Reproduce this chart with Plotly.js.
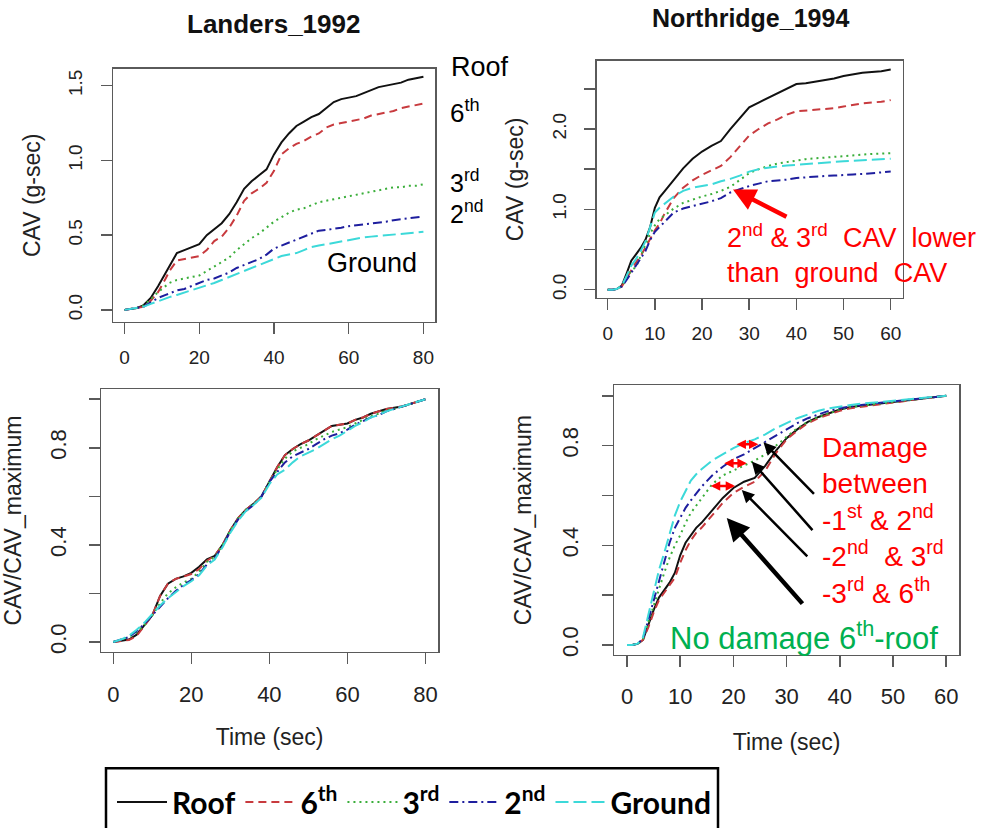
<!DOCTYPE html>
<html><head><meta charset="utf-8">
<script src="https://cdn.plot.ly/plotly-3.0.1.min.js"></script>
<style>html,body{margin:0;padding:0;background:#fff}#chart{width:984px;height:828px}</style>
</head><body><div id="chart"></div>
<script>
// ---------- data ----------
const seriesNames = ['Roof', '6<sup>th</sup>', '3<sup>rd</sup>', '2<sup>nd</sup>', 'Ground'];

// Landers_1992 : CAV (g-sec)
const landersTime = [0,3,5,7,9,11,12,14,16,18,20,22,24,26,28,30,32,34,36,38,40,42,44,46,48,50,52,54,56,58,60,62,64,66,68,70,72,74,76,78,80];
const landersRoof   = [0,0.01,0.03,0.08,0.16,0.25,0.30,0.38,0.40,0.42,0.44,0.50,0.54,0.58,0.64,0.72,0.81,0.86,0.90,0.94,1.04,1.12,1.18,1.23,1.26,1.29,1.31,1.35,1.39,1.41,1.42,1.43,1.45,1.47,1.49,1.50,1.51,1.52,1.54,1.55,1.56];
const landers6th    = [0,0.01,0.02,0.06,0.12,0.21,0.26,0.33,0.34,0.35,0.36,0.40,0.46,0.49,0.55,0.63,0.73,0.78,0.81,0.85,0.93,1.04,1.08,1.11,1.13,1.16,1.18,1.22,1.24,1.25,1.26,1.27,1.28,1.30,1.31,1.32,1.33,1.35,1.36,1.37,1.38];
const landers3rd    = [0,0.01,0.03,0.07,0.12,0.16,0.18,0.20,0.21,0.22,0.23,0.26,0.29,0.32,0.35,0.40,0.44,0.48,0.51,0.55,0.59,0.62,0.65,0.67,0.68,0.70,0.72,0.73,0.74,0.75,0.76,0.77,0.78,0.79,0.80,0.81,0.82,0.82,0.83,0.83,0.84];
const landers2nd    = [0,0.01,0.02,0.05,0.08,0.10,0.11,0.13,0.14,0.16,0.18,0.20,0.21,0.23,0.25,0.28,0.30,0.32,0.34,0.37,0.41,0.43,0.45,0.47,0.49,0.51,0.53,0.535,0.54,0.55,0.56,0.565,0.57,0.58,0.585,0.59,0.60,0.605,0.61,0.62,0.625];
const landersGround = [0,0.01,0.02,0.04,0.06,0.08,0.085,0.10,0.115,0.13,0.145,0.16,0.18,0.20,0.22,0.24,0.26,0.28,0.30,0.32,0.34,0.36,0.37,0.38,0.40,0.42,0.43,0.44,0.45,0.46,0.47,0.48,0.485,0.49,0.495,0.50,0.505,0.51,0.515,0.52,0.522];

// Northridge_1994 : CAV (g-sec)
const northTime = [0,1,2,3,4,5,6,7,8,9,10,11,12,14,16,18,20,22,24,26,28,30,32,34,36,38,40,42,44,46,48,50,52,54,56,58,60];
const northRoof   = [0,0,0.01,0.05,0.20,0.36,0.44,0.52,0.62,0.78,1.02,1.15,1.22,1.37,1.51,1.63,1.72,1.79,1.85,2.00,2.14,2.27,2.33,2.39,2.44,2.50,2.56,2.57,2.59,2.61,2.63,2.66,2.68,2.70,2.71,2.72,2.74];
const north6th    = [0,0,0.01,0.04,0.14,0.25,0.34,0.42,0.52,0.63,0.74,0.82,0.94,1.14,1.27,1.36,1.43,1.49,1.54,1.65,1.79,1.92,2.00,2.07,2.12,2.18,2.22,2.23,2.24,2.25,2.26,2.28,2.30,2.32,2.33,2.34,2.36];
const north3rd    = [0,0,0.01,0.04,0.14,0.24,0.28,0.42,0.55,0.70,0.80,0.88,0.92,1.01,1.08,1.12,1.16,1.19,1.23,1.28,1.37,1.45,1.50,1.54,1.57,1.59,1.61,1.625,1.635,1.645,1.655,1.665,1.675,1.68,1.69,1.695,1.70];
const north2nd    = [0,0,0.01,0.04,0.12,0.21,0.30,0.38,0.48,0.62,0.72,0.78,0.84,0.96,1.01,1.04,1.07,1.10,1.14,1.21,1.25,1.29,1.32,1.35,1.36,1.37,1.39,1.40,1.41,1.415,1.42,1.43,1.435,1.44,1.45,1.46,1.47];
const northGround = [0,0,0.01,0.05,0.17,0.30,0.38,0.48,0.60,0.78,0.96,1.02,1.07,1.16,1.23,1.27,1.29,1.31,1.35,1.38,1.42,1.47,1.50,1.52,1.535,1.545,1.555,1.565,1.575,1.585,1.595,1.60,1.605,1.61,1.62,1.625,1.63];

// Landers_1992 : CAV / CAV_maximum
const landersNormTime = [0,2,4,6,8,10,12,14,16,18,20,22,24,26,28,30,32,34,36,38,40,42,44,46,48,50,52,54,56,58,60,62,64,66,68,70,72,74,76,78,80];
const landersNormRoof   = [0,0.005,0.01,0.03,0.07,0.11,0.19,0.24,0.26,0.27,0.285,0.31,0.34,0.355,0.40,0.46,0.51,0.545,0.57,0.60,0.66,0.72,0.77,0.795,0.815,0.83,0.85,0.87,0.89,0.895,0.90,0.915,0.925,0.94,0.95,0.96,0.965,0.97,0.98,0.99,1.0];
const landersNorm6th    = [0,0.005,0.008,0.025,0.065,0.11,0.19,0.24,0.26,0.27,0.28,0.30,0.335,0.355,0.40,0.46,0.51,0.545,0.57,0.60,0.66,0.72,0.77,0.795,0.815,0.83,0.85,0.87,0.89,0.895,0.90,0.915,0.925,0.94,0.95,0.96,0.965,0.97,0.98,0.99,1.0];
const landersNorm3rd    = [0,0.01,0.02,0.04,0.07,0.11,0.16,0.20,0.225,0.245,0.26,0.29,0.33,0.35,0.40,0.46,0.51,0.545,0.57,0.60,0.66,0.71,0.755,0.785,0.80,0.815,0.835,0.85,0.865,0.875,0.885,0.90,0.915,0.93,0.94,0.955,0.96,0.97,0.98,0.99,1.0];
const landersNorm2nd    = [0,0.01,0.02,0.045,0.075,0.11,0.145,0.18,0.21,0.235,0.255,0.28,0.32,0.345,0.395,0.455,0.505,0.54,0.565,0.60,0.66,0.70,0.74,0.765,0.78,0.795,0.815,0.835,0.85,0.86,0.875,0.895,0.91,0.925,0.935,0.95,0.96,0.97,0.98,0.99,1.0];
const landersNormGround = [0,0.01,0.025,0.05,0.08,0.115,0.15,0.18,0.205,0.23,0.25,0.275,0.315,0.34,0.39,0.45,0.50,0.54,0.565,0.595,0.65,0.69,0.71,0.74,0.765,0.78,0.795,0.815,0.835,0.85,0.87,0.89,0.905,0.925,0.935,0.95,0.96,0.97,0.98,0.99,1.0];

// Northridge_1994 : CAV / CAV_maximum
const northNormTime = [0,1,2,3,4,5,6,7,8,9,10,11,12,13,14,16,18,20,22,24,26,28,30,32,34,36,38,40,42,44,46,48,50,52,54,56,58,60];
const northNormRoof   = [0,0,0.005,0.02,0.08,0.14,0.19,0.22,0.25,0.29,0.36,0.41,0.44,0.47,0.49,0.54,0.59,0.63,0.655,0.67,0.72,0.78,0.83,0.865,0.895,0.915,0.93,0.945,0.955,0.96,0.965,0.97,0.975,0.98,0.985,0.99,0.995,1.0];
const northNorm6th    = [0,0,0.005,0.02,0.07,0.13,0.18,0.21,0.24,0.27,0.33,0.38,0.42,0.45,0.47,0.52,0.57,0.61,0.635,0.655,0.70,0.77,0.825,0.86,0.89,0.91,0.925,0.94,0.95,0.955,0.96,0.965,0.972,0.978,0.985,0.99,0.995,1.0];
const northNorm3rd    = [0,0,0.005,0.02,0.09,0.16,0.23,0.29,0.35,0.40,0.44,0.49,0.53,0.56,0.59,0.645,0.68,0.70,0.72,0.74,0.765,0.80,0.835,0.87,0.895,0.915,0.93,0.945,0.955,0.96,0.965,0.97,0.975,0.98,0.985,0.99,0.995,1.0];
const northNorm2nd    = [0,0,0.005,0.025,0.10,0.18,0.26,0.34,0.41,0.47,0.51,0.55,0.58,0.61,0.635,0.68,0.715,0.745,0.765,0.79,0.815,0.84,0.865,0.89,0.91,0.925,0.94,0.95,0.958,0.963,0.968,0.973,0.978,0.983,0.987,0.991,0.995,1.0];
const northNormGround = [0,0,0.005,0.03,0.12,0.21,0.30,0.37,0.45,0.52,0.575,0.62,0.66,0.685,0.705,0.74,0.765,0.79,0.81,0.825,0.845,0.87,0.89,0.91,0.925,0.94,0.95,0.958,0.963,0.968,0.972,0.976,0.98,0.984,0.988,0.992,0.996,1.0];

// tick labels
const cavLandersTicks = [0, 0.5, 1.0, 1.5];
const cavLandersText  = ['0.0', '0.5', '1.0', '1.5'];
const cavNorthTicks = [0, 0.5, 1.0, 1.5, 2.0, 2.5];
const cavNorthText  = ['0.0', '', '1.0', '', '2.0', ''];
const normTicks = [0, 0.2, 0.4, 0.6, 0.8, 1.0];
const normText  = ['0.0', '', '0.4', '', '0.8', ''];
const time80Ticks = [0, 20, 40, 60, 80];
const time60Ticks = [0, 10, 20, 30, 40, 50, 60];

// ---------- styles ----------
const lineColors = ['#111111', '#c83a3e', '#3aae3a', '#1e1e9e', '#3cd9d9'];
const lineDashes = ['solid', '8px,5px', '2px,4px', '9px,4px,2px,4px', '13px,5px'];

const panels = [
  {xa: 'x',  ya: 'y',  t: landersTime,     ys: [landersRoof, landers6th, landers3rd, landers2nd, landersGround], legend: true},
  {xa: 'x2', ya: 'y2', t: northTime,       ys: [northRoof, north6th, north3rd, north2nd, northGround], legend: false},
  {xa: 'x3', ya: 'y3', t: landersNormTime, ys: [landersNormRoof, landersNorm6th, landersNorm3rd, landersNorm2nd, landersNormGround], legend: false},
  {xa: 'x4', ya: 'y4', t: northNormTime,   ys: [northNormRoof, northNorm6th, northNorm3rd, northNorm2nd, northNormGround], legend: false}
];

const traces = [];
panels.forEach(p => {
  p.ys.forEach((vals, i) => {
    traces.push({
      type: 'scatter', mode: 'lines', x: p.t, y: vals,
      xaxis: p.xa, yaxis: p.ya, name: seriesNames[i],
      showlegend: p.legend, hoverinfo: 'skip',
      line: {color: lineColors[i], width: 2, dash: lineDashes[i], shape: 'linear'}
    });
  });
});

const W = 984, H = 828;
const FONT = 'Liberation Sans, Arial, sans-serif';
function xd(a, b) { return [a / W, b / W]; }
function yd(top, bottom) { return [1 - bottom / H, 1 - top / H]; }

function axis(opts) {
  return Object.assign({
    showline: true, mirror: true, linecolor: '#5a5a5a', linewidth: 1.5,
    ticks: 'outside', ticklen: 11, tickwidth: 1.5, tickcolor: '#5a5a5a',
    showgrid: false, zeroline: false, tickmode: 'array', fixedrange: true
  }, opts);
}

const layout = {
  width: W, height: H,
  margin: {l: 0, r: 0, t: 0, b: 0},
  paper_bgcolor: '#ffffff', plot_bgcolor: '#ffffff',
  font: {family: FONT, color: '#111'},
  showlegend: true,
  legend: {
    orientation: 'h', x: 112 / W, y: 1 - 779 / H, xanchor: 'left', yanchor: 'top',
    font: {family: 'Lato, Open Sans, sans-serif', size: 30, color: '#000', weight: 700},
    bgcolor: 'rgba(0,0,0,0)', borderwidth: 0, itemwidth: 50
  },
  xaxis: axis({domain: xd(113, 435), range: [-3.1, 83.1], anchor: 'y', tickvals: time80Ticks, ticktext: time80Ticks.map(String),
    tickfont: {family: FONT, size: 19, color: '#222'}, ticklabelstandoff: 7}),
  yaxis: axis({domain: yd(69, 323), range: [-0.08, 1.613], anchor: 'x', tickvals: cavLandersTicks, ticktext: cavLandersText,
    tickangle: -90, tickfont: {family: FONT, size: 19, color: '#222'}, ticklabelstandoff: 11,
    title: {text: 'CAV (g-sec)', font: {family: FONT, size: 23, color: '#222'}, standoff: 18}}),
  xaxis2: axis({domain: xd(596.7, 902.7), range: [-2.33, 62.54], anchor: 'y2', tickvals: time60Ticks, ticktext: time60Ticks.map(String),
    tickfont: {family: FONT, size: 19, color: '#222'}, ticklabelstandoff: 7}),
  yaxis2: axis({domain: yd(61, 299), range: [-0.103, 2.85], anchor: 'x2', tickvals: cavNorthTicks, ticktext: cavNorthText,
    tickangle: -90, tickfont: {family: FONT, size: 19, color: '#222'}, ticklabelstandoff: 11,
    title: {text: 'CAV (g-sec)', font: {family: FONT, size: 23, color: '#222'}, standoff: 18}}),
  xaxis3: axis({domain: xd(101, 438.3), range: [-3.15, 83.3], anchor: 'y3', tickvals: time80Ticks, ticktext: time80Ticks.map(String),
    tickfont: {family: FONT, size: 22, color: '#222'}, ticklabelstandoff: 11,
    title: {text: 'Time (sec)', font: {family: FONT, size: 23, color: '#222'}, standoff: 23}}),
  yaxis3: axis({domain: yd(390.7, 654.3), range: [-0.041, 1.041], anchor: 'x3', tickvals: normTicks, ticktext: normText,
    tickangle: -90, tickfont: {family: FONT, size: 22, color: '#222'}, ticklabelstandoff: 14,
    title: {text: 'CAV/CAV_maximum', font: {family: FONT, size: 23, color: '#222'}, standoff: 22}}),
  xaxis4: axis({domain: xd(614.3, 959), range: [-2.39, 62.4], anchor: 'y4', tickvals: time60Ticks, ticktext: time60Ticks.map(String),
    tickfont: {family: FONT, size: 22, color: '#222'}, ticklabelstandoff: 10,
    title: {text: 'Time (sec)', font: {family: FONT, size: 23, color: '#222'}, standoff: 26}}),
  yaxis4: axis({domain: yd(386.7, 657.3), range: [-0.04, 1.042], anchor: 'x4', tickvals: normTicks, ticktext: normText,
    tickangle: -90, tickfont: {family: FONT, size: 22, color: '#222'}, ticklabelstandoff: 15,
    title: {text: 'CAV/CAV_maximum', font: {family: FONT, size: 23, color: '#222'}, standoff: 20}}),
  shapes: [
    {type: 'rect', xref: 'paper', yref: 'paper', x0: 106 / W, x1: 718 / W, y0: -0.05, y1: 1 - 771 / H,
     line: {color: '#000', width: 2.5}, fillcolor: 'rgba(0,0,0,0)'}
  ],
  annotations: []
};

const A = layout.annotations;
function paperText(text, xpx, ypx, size, color, opts) {
  A.push(Object.assign({xref: 'paper', yref: 'paper', x: xpx / W, y: 1 - ypx / H, text: text, showarrow: false,
    xanchor: 'left', yanchor: 'middle', align: 'left', font: {family: FONT, size: size, color: color}}, opts || {}));
}
// panel titles
paperText('<b>Landers_1992</b>', 273, 24, 26, '#111', {xanchor: 'center'});
paperText('<b>Northridge_1994</b>', 750, 18, 25, '#111', {xanchor: 'center'});
// floor labels, Landers CAV
paperText('Roof', 449, 67, 27, '#000');
paperText('6<sup>th</sup>', 448, 112, 26, '#000');
paperText('3<sup>rd</sup>', 448, 182, 25, '#000');
paperText('2<sup>nd</sup>', 448, 213, 25, '#000');
paperText('Ground', 325, 264, 27, '#000');
// Northridge CAV note
paperText('2<sup>nd</sup> &amp; 3<sup>rd</sup>  CAV  lower<br>than  ground  CAV', 725, 254, 27, '#ff0000');
// Northridge normalized notes
paperText('Damage<br>between<br>-1<sup>st</sup> &amp; 2<sup>nd</sup><br>-2<sup>nd</sup>  &amp; 3<sup>rd</sup><br>-3<sup>rd</sup> &amp; 6<sup>th</sup>', 820, 522, 28, '#ff0000');
paperText('No damage 6<sup>th</sup>-roof', 668, 638, 31, '#00b050');

// arrows (tip at data coords, tail in pixel offsets)
function arrow(xa, ya, x, y, ax, ay, color, width, head) {
  A.push({xref: xa, yref: ya, x: x, y: y, ax: ax, ay: ay, axref: 'pixel', ayref: 'pixel', text: '', showarrow: true,
    arrowhead: head || 2, arrowsize: 1, arrowwidth: width, arrowcolor: color});
}
arrow('x2', 'y2', 26.56, 1.248, 55, 28, '#ff0000', 4.5, 2);
arrow('x4', 'y4', 25.64, 0.813, 52, 53, '#000', 2.5, 2);
arrow('x4', 'y4', 23.45, 0.736, 62, 70, '#000', 2.5, 2);
arrow('x4', 'y4', 21.57, 0.622, 67, 68, '#000', 2.5, 2);
arrow('x4', 'y4', 18.75, 0.509, 77, 87, '#000', 4.5, 2);
// red double arrows
function dbl(x0, x1, y) {
  A.push({xref: 'x4', yref: 'y4', x: x1, y: y, ax: x0, ay: y, axref: 'x4', ayref: 'y4', text: '', showarrow: true,
    arrowhead: 2, startarrowhead: 2, arrowside: 'end+start', arrowsize: 0.75, startarrowsize: 0.75, arrowwidth: 2.5, arrowcolor: '#ff0000'});
}
dbl(20.31, 24.69, 0.805);
dbl(18.0, 22.51, 0.729);
dbl(15.48, 20.31, 0.638);

Plotly.newPlot('chart', traces, layout, {staticPlot: true, displayModeBar: false});
</script>
</body></html>
